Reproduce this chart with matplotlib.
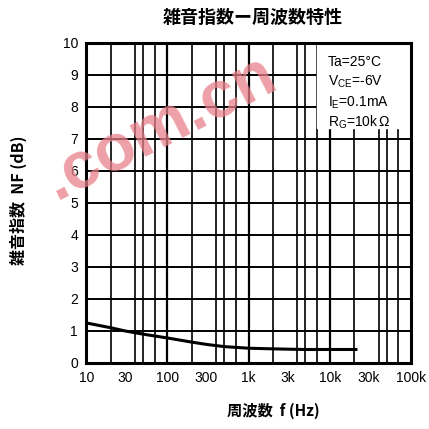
import matplotlib
matplotlib.use("Agg")
import matplotlib.pyplot as plt
from matplotlib.ticker import LogLocator, FixedLocator, NullFormatter

plt.rcParams['font.family'] = ['Liberation Sans', 'Noto Sans CJK JP', 'DejaVu Sans']
plt.rcParams['mathtext.fontset'] = 'custom'
plt.rcParams['mathtext.rm'] = 'Liberation Sans'

# noise figure curve
freq = [10, 20, 30, 50, 100, 200, 300, 500, 1000, 2000, 3000, 5000, 10000, 21000]
nf = [1.25, 1.1, 1.0, 0.9, 0.78, 0.65, 0.58, 0.51, 0.46, 0.44, 0.43, 0.42, 0.42, 0.42]

xticks = [10, 30, 100, 300, 1000, 3000, 10000, 30000, 100000]
xticklabels = ["10", "30", "100", "300", "1k", "3k", "10k", "30k", "100k"]
yticks = list(range(0, 11))

conditions = ["Ta=25°C", r"V$_{\rm CE}$=-6V", r"I$_{\rm E}$=0.1mA", r"R$_{\rm G}$=10k$\,$Ω"]

fig = plt.figure(figsize=(4.29, 4.29), dpi=100)
ax = fig.add_axes([0.201, 0.154, 0.757, 0.746])

ax.set_xscale("log")
ax.set_xlim(10, 100000)
ax.set_ylim(0, 10)

ax.xaxis.set_major_locator(FixedLocator(xticks))
ax.set_xticklabels(xticklabels, fontsize=10)
ax.xaxis.set_minor_locator(LogLocator(base=10, subs=[2, 3, 4, 5, 7]))
ax.xaxis.set_minor_formatter(NullFormatter())
ax.set_yticks(yticks)
ax.set_yticklabels([str(v) for v in yticks], fontsize=10)
ax.tick_params(which="both", length=0, pad=6)

# grid: decades, in-decade lines and every dB
for x in [10, 100, 1000, 10000]:
    ax.axvline(x, color="black", lw=1.6, zorder=1)
for x in ax.xaxis.get_minorticklocs():
    if 10 < x < 100000:
        ax.axvline(x, color="black", lw=1.2, zorder=1)
for y in yticks[1:-1]:
    ax.axhline(y, color="black", lw=1.4, zorder=1)

ax.plot(freq, nf, color="black", lw=2.2, zorder=3)

for s in ax.spines.values():
    s.set_linewidth(2.2)

# white box with the test conditions
ax.fill_between([7000, 100000], 7.35, 10, color="white", zorder=2)
for i, t in enumerate(conditions):
    ax.text(0.745, 0.94 - i * 0.063, t, transform=ax.transAxes, fontsize=10,
            va="center", ha="left", zorder=4)

# watermark
fig.text(0.375, 0.70, ".com.cn", fontsize=48, fontweight="bold", color="#e8808a",
         alpha=0.75, rotation=27, ha="center", va="center", zorder=10)

fig.text(0.59, 0.96, "雑音指数ー周波数特性", fontsize=13, fontweight="bold",
         ha="center", va="center", family=["Noto Sans CJK JP", "DejaVu Sans"])
fig.text(0.636, 0.042, "周波数  f (Hz)", fontsize=11, fontweight="bold",
         ha="center", va="center", family=["Noto Sans CJK JP", "DejaVu Sans"])
fig.text(0.042, 0.534, "雑音指数  NF (dB)", fontsize=11.5, fontweight="bold",
         ha="center", va="center", rotation=90,
         family=["Noto Sans CJK JP", "DejaVu Sans"])

fig.savefig("out.png", dpi=100, facecolor="white")
